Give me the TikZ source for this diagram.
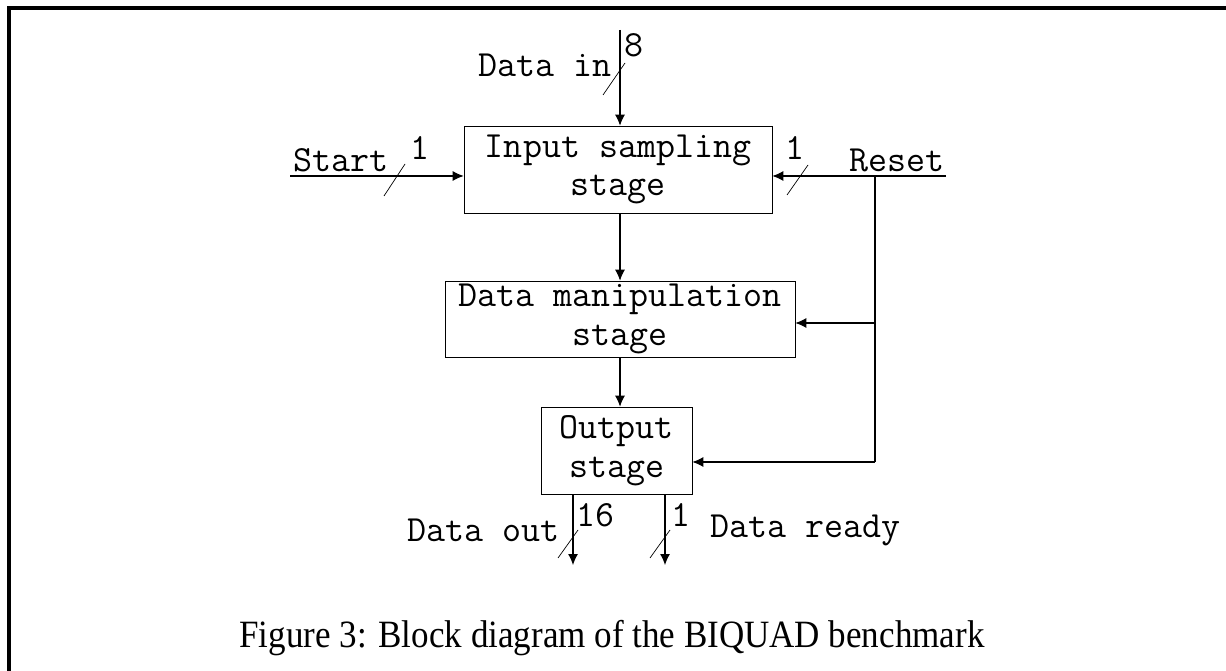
\documentclass[tikz,border=0pt]{standalone}
\usepackage{fontspec}
\setmainfont{Liberation Serif}
\usepackage{tikz}
\usetikzlibrary{calc,arrows.meta}

\tikzset{
    stagebox/.style={draw,rectangle,align=center,inner sep=0pt,
        font=\ttfamily\fontsize{21}{22}\selectfont},
    buslabel/.style={font=\ttfamily\fontsize{21}{22}\selectfont,inner sep=0pt},
    bus/.style={line width=0.6pt,-{Latex[length=2.2mm,width=2mm]}},
    wire/.style={line width=0.6pt},
    busslash/.style={line width=0.4pt}
}

\begin{document}
\begin{tikzpicture}[x=0.02cm,y=-0.02cm]
    \useasboundingbox (0,0) rectangle (1226,671);
    % frame
    \draw [line width=2pt] (9,671) -- (9,8) -- (1226,8);

    \node[stagebox,minimum width=6.16cm,minimum height=1.74cm]
        (Input) at (618,169.5) {Input sampling\\stage};
    \node[stagebox,minimum width=7cm,minimum height=1.52cm]
        (Manip) at (620,319) {Data manipulation\\stage};
    \node[stagebox,minimum width=3.02cm,minimum height=1.74cm]
        (Output) at (616.5,450.5) {Output\\stage};

    \coordinate (DataIn) at (620,30);
    \coordinate (StartIn) at (290,176);
    \coordinate (ResetIn) at (946,176);
    \coordinate (ResetTap) at (875,176);
    \coordinate (ResetMid) at (875,323);
    \coordinate (ResetLow) at (875,462);
    \coordinate (DataOut) at (573,565);
    \coordinate (DataReady) at (665,565);

    \draw [bus] (DataIn) -- (DataIn |- Input.north);
    \draw [bus] (StartIn) -- (StartIn -| Input.west);
    \draw [bus] (ResetIn) -- (ResetIn -| Input.east);
    \draw [wire] (ResetTap) -- (ResetLow);
    \draw [bus] (ResetMid) -- (ResetMid -| Manip.east);
    \draw [bus] (ResetLow) -- (ResetLow -| Output.east);
    \draw [bus] (DataIn |- Input.south) -- (DataIn |- Manip.north);
    \draw [bus] (DataIn |- Manip.south) -- (DataIn |- Output.north);
    \draw [bus] (DataOut |- Output.south) -- (DataOut);
    \draw [bus] (DataReady |- Output.south) -- (DataReady);

    % bus widths
    \draw [busslash] (603,95) -- (625,63);
    \draw [busslash] (384,196) -- (405,164);
    \draw [busslash] (787,195) -- (808,165);
    \draw [busslash] (558,558) -- (578,530);
    \draw [busslash] (650,558) -- (670,530);

    \node[buslabel,anchor=east] (DataInLbl) at (612,65) {Data in};
    \node[buslabel] (DataInW) at (634,45) {8};
    \node[buslabel,anchor=west] (StartLbl) at (293,160) {Start};
    \node[buslabel] (StartW) at (420,148) {1};
    \node[buslabel,anchor=east] (ResetLbl) at (945,160) {Reset};
    \node[buslabel] (ResetW) at (795,148) {1};
    \node[buslabel,anchor=east] (DataOutLbl) at (560,530) {Data out};
    \node[buslabel] (DataOutW) at (595,515) {16};
    \node[buslabel] (DataReadyW) at (681,515) {1};
    \node[buslabel,anchor=west] (DataReadyLbl) at (710,530) {Data ready};

    \node[font=\fontsize{22}{26}\selectfont,inner sep=0pt]
        (Caption) at (612,638) {\scalebox{0.906}[1]{Figure 3: Block diagram of the BIQUAD benchmark}};
\end{tikzpicture}
\end{document}
